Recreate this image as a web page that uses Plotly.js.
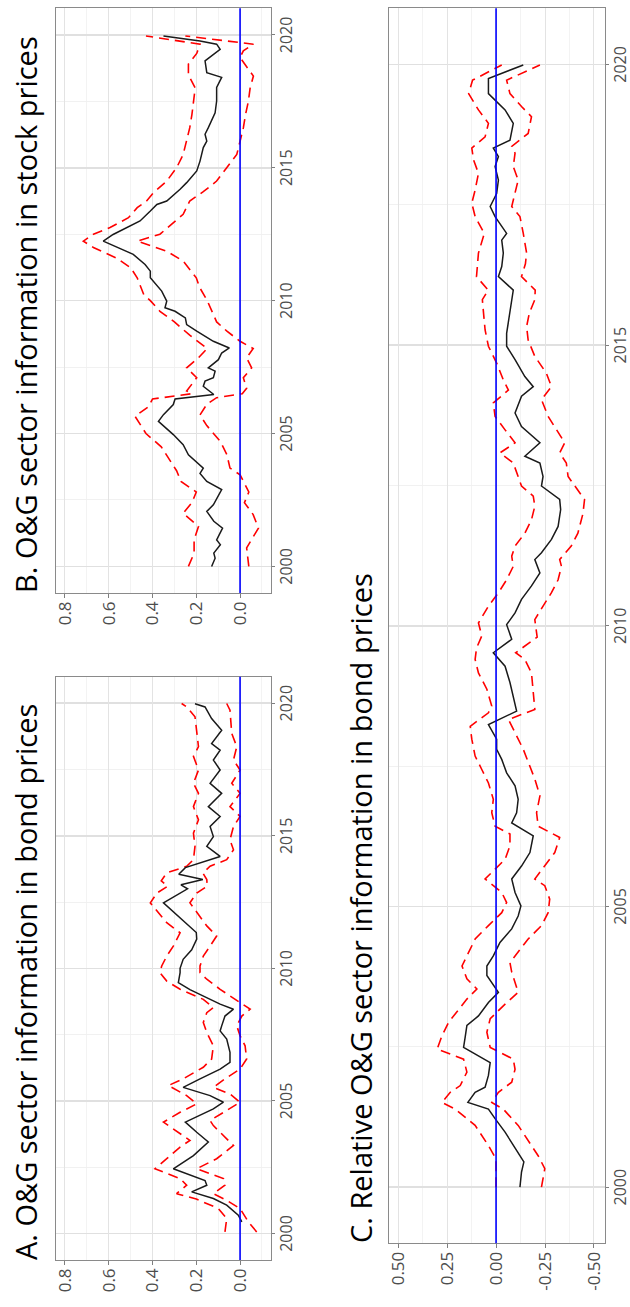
<!DOCTYPE html>
<html>
<head>
<meta charset="utf-8">
<script src="https://cdn.plot.ly/plotly-3.0.1.min.js"></script>
<style>
html,body{margin:0;padding:0;background:#fff;overflow:hidden;}
#wrap{position:relative;width:630px;height:1307px;overflow:hidden;}
#chart{position:absolute;left:0;top:0;width:1307px;height:630px;transform-origin:0 0;transform:translate(0,1307px) rotate(-90deg);}
</style>
</head>
<body>
<div id="wrap"><div id="chart"></div></div>
<script>
// ---------- Panel A: O&G sector information in bond prices ----------
const aEstYears = [2000.44,2000.69,2001.07,2001.32,2001.57,2001.82,2002.0,2002.44,2002.94,2003.45,2003.82,2004.2,2004.7,2004.95,2005.2,2005.51,2005.83,2006.2,2006.45,2006.83,2007.33,2007.64,2007.83,2008.2,2008.46,2008.65,2009.2,2009.46,2009.84,2010.0,2010.34,2010.7,2011.1,2011.35,2012.47,2012.84,2013.0,2013.15,2013.35,2013.55,2013.8,2014.22,2014.6,2014.97,2015.35,2015.73,2016.1,2016.6,2016.98,2017.48,2017.86,2018.23,2018.48,2018.98,2019.42,2019.86,2019.98];
const aEst = [-0.008,0.008,0.061,0.122,0.221,0.152,0.16,0.305,0.213,0.145,0.198,0.25,0.122,0.076,0.137,0.26,0.183,0.091,0.046,0.046,0.061,0.091,0.084,0.069,0.03,0.091,0.229,0.282,0.274,0.274,0.26,0.221,0.198,0.2,0.35,0.274,0.24,0.27,0.17,0.28,0.25,0.091,0.152,0.122,0.137,0.091,0.145,0.084,0.137,0.091,0.122,0.091,0.13,0.084,0.13,0.16,0.206];
const aUpYears = [2000.06,2000.56,2000.94,2001.3,2001.5,2001.82,2002.07,2002.44,2002.82,2003.26,2003.51,2003.82,2004.2,2004.57,2004.89,2005.2,2005.58,2005.83,2006.27,2006.58,2007.08,2007.58,2007.96,2008.33,2008.52,2008.83,2009.21,2009.52,2009.84,2010.09,2010.46,2010.84,2011.34,2011.72,2012.47,2012.84,2013.1,2013.3,2013.6,2013.85,2014.1,2014.6,2015.1,2015.6,2016.1,2016.6,2016.98,2017.48,2018.0,2018.36,2018.86,2019.49,2019.86,2019.99];
const aUpper = [0.069,0.061,0.099,0.2,0.29,0.244,0.274,0.389,0.335,0.274,0.229,0.282,0.35,0.274,0.198,0.244,0.328,0.26,0.168,0.13,0.122,0.152,0.168,0.152,0.122,0.168,0.274,0.335,0.366,0.358,0.335,0.305,0.274,0.335,0.41,0.38,0.33,0.36,0.335,0.244,0.213,0.206,0.213,0.19,0.213,0.19,0.213,0.19,0.213,0.19,0.198,0.206,0.244,0.267];
const aLoYears = [2000.06,2000.44,2000.94,2001.25,2001.5,2001.82,2002.07,2002.44,2002.82,2003.32,2003.57,2004.07,2004.26,2004.7,2004.95,2005.26,2005.51,2005.83,2006.2,2006.58,2007.08,2007.46,2007.83,2008.2,2008.46,2008.71,2009.21,2009.59,2009.84,2010.09,2010.46,2010.84,2011.22,2011.6,2012.47,2012.84,2013.1,2013.35,2013.6,2013.85,2014.1,2014.47,2014.85,2015.35,2015.73,2016.1,2016.6,2016.98,2017.48,2017.86,2018.36,2018.86,2019.74,2019.99];
const aLower = [-0.076,-0.038,0.0,0.061,0.122,0.069,0.076,0.198,0.107,0.03,0.061,0.122,0.137,0.053,0.0,0.046,0.122,0.069,0.0,-0.03,-0.023,0.0,0.015,-0.008,-0.046,0.0,0.091,0.152,0.183,0.183,0.168,0.137,0.107,0.152,0.229,0.198,0.15,0.152,0.17,0.137,0.061,0.03,0.046,0.03,0.0,0.046,0.0,0.038,0.0,0.03,0.015,0.038,0.046,0.061];

// ---------- Panel B: O&G sector information in stock prices ----------
const bEstYears = [2000.0,2000.31,2000.5,2000.82,2001.0,2001.44,2001.7,2002.07,2002.32,2002.89,2003.2,2003.5,2003.7,2004.08,2004.2,2004.58,2004.96,2005.46,2005.71,2006.09,2006.3,2006.47,2006.53,2006.78,2006.97,2007.1,2007.35,2007.47,2007.78,2008.03,2008.22,2008.47,2008.85,2009.1,2009.35,2009.6,2009.73,2009.98,2010.36,2010.86,2011.11,2011.36,2011.74,2012.24,2012.49,2013.0,2013.37,2013.62,2013.75,2014.06,2014.19,2014.44,2014.88,2015.25,2015.76,2016.0,2016.26,2016.51,2016.89,2017.07,2017.51,2018.02,2018.4,2018.58,2019.02,2019.27,2019.46,2019.65,2019.77,2019.96];
const bEst = [0.13,0.114,0.12,0.09,0.107,0.08,0.12,0.152,0.122,0.084,0.152,0.183,0.168,0.22,0.236,0.26,0.305,0.373,0.35,0.305,0.297,0.12,0.13,0.168,0.16,0.122,0.114,0.145,0.099,0.084,0.049,0.122,0.198,0.244,0.25,0.297,0.343,0.335,0.358,0.41,0.41,0.434,0.488,0.625,0.58,0.457,0.41,0.38,0.335,0.29,0.274,0.244,0.198,0.183,0.168,0.152,0.16,0.145,0.125,0.114,0.107,0.107,0.084,0.152,0.16,0.122,0.091,0.107,0.183,0.35];
const bUpYears = [2000.0,2000.5,2001.0,2001.5,2002.0,2002.4,2002.8,2003.2,2003.6,2004.1,2004.5,2005.0,2005.65,2006.0,2006.3,2006.5,2006.6,2007.1,2007.47,2007.85,2008.2,2008.7,2009.2,2009.6,2010.0,2010.23,2010.86,2011.24,2011.6,2012.0,2012.24,2012.5,2012.75,2013.12,2013.5,2013.75,2014.06,2014.5,2015.0,2015.5,2016.0,2016.5,2017.0,2017.5,2018.0,2018.5,2018.9,2019.3,2019.65,2019.96];
const bUpper = [0.236,0.21,0.21,0.19,0.26,0.22,0.2,0.27,0.29,0.33,0.36,0.43,0.48,0.42,0.4,0.22,0.244,0.198,0.244,0.19,0.15,0.23,0.3,0.366,0.41,0.44,0.47,0.5,0.564,0.67,0.716,0.67,0.594,0.51,0.47,0.427,0.396,0.335,0.29,0.26,0.244,0.23,0.22,0.213,0.205,0.236,0.236,0.198,0.183,0.43];
const bLoYears = [2000.0,2000.7,2001.44,2001.95,2002.4,2002.8,2003.45,2003.7,2004.2,2004.7,2005.3,2005.7,2006.1,2006.35,2006.5,2006.7,2007.1,2007.47,2007.85,2008.2,2008.47,2008.85,2009.2,2009.73,2010.0,2010.5,2010.86,2011.49,2011.86,2012.24,2012.5,2013.25,2013.75,2014.1,2014.5,2015.0,2015.5,2016.0,2016.5,2017.0,2017.5,2018.0,2018.45,2018.8,2019.15,2019.4,2019.65,2019.96];
const bLower = [-0.04,-0.03,-0.084,-0.06,-0.02,-0.04,0.0,0.046,0.06,0.09,0.152,0.183,0.152,0.107,-0.01,-0.03,-0.015,-0.053,-0.03,-0.06,0.0,0.06,0.107,0.137,0.15,0.185,0.2,0.26,0.335,0.47,0.366,0.26,0.23,0.168,0.107,0.061,0.015,0.0,-0.015,-0.025,-0.038,-0.046,-0.061,-0.03,0.0,-0.015,-0.061,0.25];

// ---------- Panel C: Relative O&G sector information in bond prices ----------
const cEstYears = [2000.0,2000.27,2000.45,2000.74,2000.98,2001.22,2001.39,2001.51,2001.69,2001.78,2001.99,2002.22,2002.49,2002.67,2002.88,2003.05,2003.29,2003.47,2003.56,2003.77,2003.94,2004.12,2004.36,2004.6,2004.83,2005.01,2005.25,2005.49,2005.72,2005.96,2006.26,2006.49,2006.67,2006.91,2007.15,2007.38,2007.62,2007.8,2007.98,2008.24,2008.48,2008.75,2008.99,2009.28,2009.52,2009.76,2010.02,2010.23,2010.47,2010.71,2010.94,2011.18,2011.3,2011.54,2011.77,2012.07,2012.25,2012.49,2012.66,2012.9,2013.02,2013.26,2013.55,2013.79,2014.09,2014.26,2014.44,2014.74,2014.98,2015.21,2015.5,2015.81,2015.98,2016.22,2016.4,2016.64,2016.87,2016.99,2017.29,2017.47,2017.7,2017.94,2018.18,2018.36,2018.51,2018.65,2018.95,2019.19,2019.48,2019.75,2019.99];
const cEst = [-0.122,-0.13,-0.142,-0.088,-0.046,0.005,0.039,0.144,0.107,0.056,0.039,0.03,0.166,0.158,0.149,0.09,0.039,-0.012,0.005,0.047,0.047,0.014,-0.02,-0.08,-0.113,-0.127,-0.097,-0.08,-0.13,-0.173,-0.19,-0.08,-0.105,-0.113,-0.097,-0.054,-0.029,-0.003,-0.003,0.039,-0.105,-0.088,-0.071,-0.046,0.014,-0.08,-0.054,-0.097,-0.13,-0.181,-0.224,-0.198,-0.232,-0.283,-0.317,-0.33,-0.325,-0.232,-0.24,-0.224,-0.147,-0.224,-0.13,-0.097,-0.13,-0.19,-0.147,-0.097,-0.054,-0.054,-0.068,-0.08,-0.088,-0.012,-0.029,-0.037,-0.029,-0.054,0.005,0.03,-0.003,-0.012,0.005,-0.012,0.014,-0.071,-0.088,-0.046,0.039,0.039,-0.139];
const cUpYears = [2000.0,2000.5,2000.74,2001.1,2001.39,2001.51,2001.69,2001.81,2002.05,2002.28,2002.46,2002.7,2002.94,2003.17,2003.35,2003.53,2003.71,2003.94,2004.18,2004.42,2004.66,2004.89,2005.07,2005.25,2005.49,2005.84,2006.08,2006.29,2006.43,2006.67,2006.91,2007.2,2007.44,2007.68,2007.98,2008.21,2008.45,2008.57,2008.87,2009.16,2009.4,2009.6,2009.82,2010.05,2010.35,2010.59,2010.82,2011.06,2011.24,2011.42,2011.65,2011.89,2012.13,2012.31,2012.49,2012.66,2012.9,2013.08,2013.26,2013.49,2013.73,2013.97,2014.2,2014.38,2014.68,2014.98,2015.27,2015.57,2015.81,2015.98,2016.22,2016.64,2016.99,2017.29,2017.53,2017.76,2018.06,2018.3,2018.51,2018.71,2018.95,2019.19,2019.48,2019.72,2019.99];
const cUpper = [0.0,0.0,0.039,0.107,0.208,0.276,0.234,0.183,0.149,0.166,0.301,0.276,0.242,0.191,0.149,0.098,0.149,0.174,0.14,0.107,0.039,-0.029,-0.054,-0.029,0.056,-0.046,-0.071,-0.071,0.005,0.022,0.014,0.039,0.073,0.107,0.124,0.132,0.039,0.022,0.047,0.09,0.107,0.1,0.073,0.09,0.039,-0.012,-0.054,-0.088,-0.08,-0.097,-0.147,-0.181,-0.198,-0.19,-0.13,-0.113,-0.088,-0.02,-0.097,-0.046,0.005,0.014,-0.063,-0.037,-0.003,0.039,0.056,0.064,0.07,0.04,0.1,0.09,0.06,0.107,0.124,0.107,0.09,0.115,0.124,0.056,0.039,0.09,0.14,0.12,-0.029];
const cLoYears = [2000.0,2000.33,2000.56,2000.86,2001.1,2001.39,2001.51,2001.69,2001.87,2002.1,2002.28,2002.49,2002.76,2003.0,2003.23,2003.47,2003.65,2003.83,2004.0,2004.18,2004.42,2004.66,2004.89,2005.13,2005.37,2005.49,2005.72,2005.96,2006.23,2006.43,2006.67,2006.97,2007.27,2007.56,2007.8,2008.16,2008.33,2008.51,2008.87,2009.16,2009.4,2009.52,2009.8,2010.11,2010.35,2010.59,2010.82,2011.06,2011.18,2011.42,2011.65,2012.0,2012.25,2012.49,2012.66,2012.9,2013.08,2013.26,2013.55,2013.73,2014.03,2014.26,2014.5,2014.8,2015.09,2015.33,2015.57,2015.81,2015.98,2016.22,2016.45,2016.64,2016.99,2017.29,2017.47,2017.7,2017.94,2018.18,2018.42,2018.54,2018.77,2019.07,2019.25,2019.48,2019.72,2019.99];
const cLower = [-0.232,-0.249,-0.215,-0.156,-0.113,-0.037,0.022,-0.012,-0.08,-0.097,-0.088,0.03,0.047,0.03,-0.037,-0.113,-0.097,-0.08,-0.071,-0.11,-0.164,-0.232,-0.266,-0.274,-0.249,-0.198,-0.249,-0.3,-0.325,-0.215,-0.207,-0.224,-0.198,-0.164,-0.139,-0.088,-0.063,-0.198,-0.19,-0.181,-0.147,-0.1,-0.21,-0.198,-0.24,-0.283,-0.317,-0.334,-0.325,-0.384,-0.418,-0.444,-0.452,-0.401,-0.368,-0.359,-0.325,-0.351,-0.3,-0.266,-0.232,-0.283,-0.257,-0.198,-0.164,-0.156,-0.17,-0.198,-0.2,-0.13,-0.15,-0.156,-0.139,-0.122,-0.08,-0.097,-0.113,-0.088,-0.097,-0.08,-0.164,-0.181,-0.13,-0.071,-0.054,-0.224];

// ---------- Tick labels / titles / reference line ----------
const abTickVals = [0.0,0.2,0.4,0.6,0.8];
const abTickText = ['0.0','0.2','0.4','0.6','0.8'];
const cTickVals = [-0.5,-0.25,0.0,0.25,0.5];
const cTickText = ['-0.50','-0.25','0.00','0.25','0.50'];
const yearTicks = [2000,2005,2010,2015,2020];
const refValue = 0;
const titles = {
  A: 'A. O&G sector information in bond prices',
  B: 'B. O&G sector information in stock prices',
  C: 'C. Relative O&G sector information in bond prices'
};

// The figure is laid out in its original landscape form (1307 x 630)
// and the whole plot is turned a quarter turn counter-clockwise by CSS.
const W = 1307, H = 630;
const px = v => v / W;
const py = v => 1 - v / H;

function band(years, vals, xa, ya, dashed) {
  return {
    type: 'scatter', mode: 'lines', x: years, y: vals, xaxis: xa, yaxis: ya,
    line: dashed ? {color: '#ff0000', width: 1.6, dash: '10px,6px'} : {color: '#1a1a1a', width: 1.5},
    hoverinfo: 'skip', showlegend: false
  };
}

const traces = [
  band(aUpYears, aUpper, 'x', 'y', true),
  band(aLoYears, aLower, 'x', 'y', true),
  band(aEstYears, aEst, 'x', 'y', false),
  band(bUpYears, bUpper, 'x2', 'y2', true),
  band(bLoYears, bLower, 'x2', 'y2', true),
  band(bEstYears, bEst, 'x2', 'y2', false),
  band(cUpYears, cUpper, 'x3', 'y3', true),
  band(cLoYears, cLower, 'x3', 'y3', true),
  band(cEstYears, cEst, 'x3', 'y3', false)
];

const valFont = {family: 'Open Sans, sans-serif', size: 17, color: '#4d4d4d'};
const yearFont = {family: 'Open Sans, sans-serif', size: 16, color: '#4d4d4d'};

function yearAxis(domain, anchor) {
  return {
    domain: domain, range: [1999, 2021], anchor: anchor, side: 'bottom',
    tickmode: 'array', tickvals: yearTicks, ticktext: yearTicks.map(String),
    ticks: 'outside', ticklen: 3, tickcolor: '#7f7f7f', tickfont: yearFont,
    ticklabelstandoff: -2,
    showgrid: true, gridcolor: '#e0e0e0', gridwidth: 1.6,
    minor: {dtick: 2.5, tick0: 2000, showgrid: true, gridcolor: '#f1f1f1', gridwidth: 1},
    zeroline: false,
    showline: true, mirror: true, linecolor: '#8a8a8a', linewidth: 1,
    fixedrange: true
  };
}
function valueAxis(domain, range, vals, text, minorStep, anchor) {
  return {
    domain: domain, range: range, anchor: anchor, side: 'left',
    tickmode: 'array', tickvals: vals, ticktext: text,
    ticks: 'outside', ticklen: 4, tickcolor: '#7f7f7f', tickfont: valFont,
    showgrid: true, gridcolor: '#e3e3e3', gridwidth: 1,
    minor: {dtick: minorStep, tick0: 0, showgrid: true, gridcolor: '#f0f0f0', gridwidth: 0.8},
    zeroline: false,
    showline: true, mirror: true, linecolor: '#8a8a8a', linewidth: 1,
    fixedrange: true
  };
}
function refLine(xa, ya) {
  return {type: 'line', xref: xa + ' domain', yref: ya, x0: 0, x1: 1, y0: refValue, y1: refValue,
          line: {color: '#0000ff', width: 1.6}, layer: 'above'};
}

const abRange = [-0.140, 0.841];
const cRange = [-0.554, 0.547];
const titleFont = {family: 'Open Sans, sans-serif', size: 29, color: '#000'};
function titleAnn(text, xPix, yPix) {
  return {text: text, xref: 'paper', yref: 'paper', x: px(xPix), y: py(yPix),
          xanchor: 'left', yanchor: 'middle', showarrow: false, font: titleFont};
}

const layout = {
  width: W, height: H,
  margin: {l: 0, r: 0, t: 0, b: 0},
  paper_bgcolor: '#ffffff', plot_bgcolor: '#ffffff',
  font: {family: 'Open Sans, sans-serif'},
  showlegend: false,
  xaxis: yearAxis([px(47), px(630.3)], 'y'),
  yaxis: valueAxis([py(270.7), py(56)], abRange, abTickVals, abTickText, 0.1, 'x'),
  xaxis2: yearAxis([px(714), px(1298.7)], 'y2'),
  yaxis2: valueAxis([py(270.7), py(56)], abRange, abTickVals, abTickText, 0.1, 'x2'),
  xaxis3: yearAxis([px(63.7), px(1298.7)], 'y3'),
  yaxis3: valueAxis([py(604.5), py(389)], cRange, cTickVals, cTickText, 0.125, 'x3'),
  shapes: [refLine('x', 'y'), refLine('x2', 'y2'), refLine('x3', 'y3')],
  annotations: [
    titleAnn(titles.A, 45, 26),
    titleAnn(titles.B, 712, 26),
    titleAnn(titles.C, 61.7, 360)
  ]
};

Plotly.newPlot('chart', traces, layout, {staticPlot: true, displayModeBar: false});
</script>
</body>
</html>
